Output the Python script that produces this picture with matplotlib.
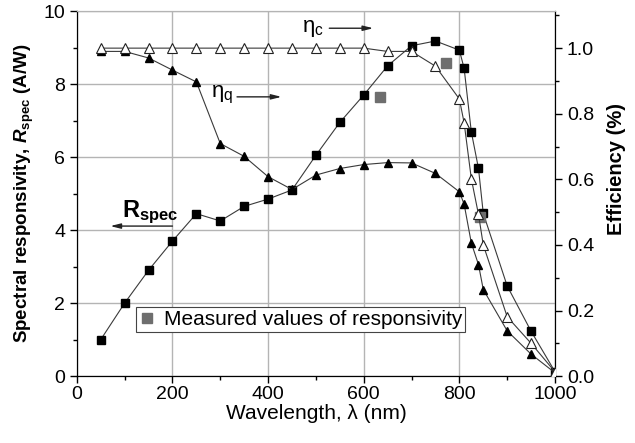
import numpy as np
import matplotlib
matplotlib.use("Agg")
import matplotlib.pyplot as plt
from matplotlib.ticker import MultipleLocator
from matplotlib.lines import Line2D

# ----------- Data -------------------------------------
wl_r = [50, 100, 150, 200, 250, 300, 350, 400, 450, 500, 550, 600, 650, 700,
        750, 800, 810, 825, 840, 850, 900, 950, 1000]
r_spec = [1.0, 2.0, 2.9, 3.7, 4.45, 4.25, 4.65, 4.85, 5.1, 6.05, 6.95, 7.7,
          8.5, 9.05, 9.18, 8.93, 8.43, 6.69, 5.69, 4.46, 2.47, 1.23, 0.12]

wl_eta = [50, 100, 150, 200, 250, 300, 350, 400, 450, 500, 550, 600, 650, 700,
          750, 800, 810, 825, 840, 850, 900, 950, 1000]
eta_c = [1.0, 1.0, 1.0, 1.0, 1.0, 1.0, 1.0, 1.0, 1.0, 1.0, 1.0, 1.0, 0.99,
         0.99, 0.945, 0.845, 0.772, 0.602, 0.493, 0.40, 0.181, 0.10, 0.013]
eta_q = [0.99, 0.99, 0.97, 0.933, 0.897, 0.709, 0.67, 0.608, 0.569, 0.613,
         0.633, 0.645, 0.651, 0.65, 0.618, 0.562, 0.524, 0.406, 0.34, 0.264,
         0.138, 0.067, 0.01]

wl_meas = [633, 772, 843]
r_meas = [7.65, 8.58, 4.37]
# ------------------------------------------------------

plt.rcParams['font.family'] = ['Liberation Sans', 'DejaVu Sans']
plt.rcParams['mathtext.fontset'] = 'custom'
plt.rcParams['mathtext.rm'] = 'Liberation Sans'
plt.rcParams['mathtext.it'] = 'Liberation Sans:italic'
plt.rcParams['mathtext.bf'] = 'Liberation Sans:bold'
plt.rcParams['mathtext.bfit'] = 'Liberation Sans:italic:bold'

LINE = '#3a3a3a'
GRID = '#b4b4b4'

fig, ax = plt.subplots(figsize=(6.35, 4.43), dpi=100)
fig.subplots_adjust(left=0.121, right=0.874, top=0.975, bottom=0.151)
ax2 = ax.twinx()

# left axis: responsivity
ax.plot(wl_r, r_spec, '-', color=LINE, lw=0.8, marker='s', ms=5.8,
        mfc='black', mec='black', zorder=4)
ax.plot(wl_meas, r_meas, 's', color='#6e6e6e', ms=7, zorder=5)

# right axis: efficiencies
ax2.plot(wl_eta, eta_q, '-', color=LINE, lw=0.8, marker='^', ms=6,
         mfc='black', mec='black', zorder=3)
ax2.plot(wl_eta, eta_c, '-', color=LINE, lw=0.8, marker='^', ms=6.5,
         mfc='white', mec='#222222', mew=0.8, zorder=4)

ax.set_xlim(0, 1000)
ax.set_ylim(0, 10)
ax2.set_ylim(0, 1.113)

ax.xaxis.set_major_locator(MultipleLocator(200))
ax.xaxis.set_minor_locator(MultipleLocator(100))
ax.yaxis.set_major_locator(MultipleLocator(2))
ax.yaxis.set_minor_locator(MultipleLocator(1))
ax2.yaxis.set_major_locator(MultipleLocator(0.2))
ax2.yaxis.set_minor_locator(MultipleLocator(0.1))
ax2.yaxis.set_major_formatter(matplotlib.ticker.FormatStrFormatter('%.1f'))

ax.grid(True, which='major', color=GRID, lw=1.0)
ax.set_axisbelow(True)

for a in (ax, ax2):
    a.spines['top'].set_color(GRID)
    a.tick_params(which='both', direction='out', labelsize=14, width=1.0)
    a.tick_params(which='major', length=5)
    a.tick_params(which='minor', length=3)
ax.tick_params(axis='x', pad=2)

ax.set_xlabel('Wavelength, λ (nm)', fontsize=15, labelpad=1)
ax.set_ylabel(r'Spectral responsivity, $\mathbfit{R}_{\mathbf{spec}}$ (A/W)',
              fontsize=13.5, fontweight='bold', labelpad=5)
ax2.set_ylabel('Efficiency (%)', fontsize=14.5, fontweight='bold')
ax2.yaxis.set_label_coords(1.108, 0.568)

# annotations with arrows
arrow = dict(arrowstyle='-|>,head_length=0.6,head_width=0.15', color='#222222', lw=1.0,
             shrinkA=0, shrinkB=0)
ax.text(494, 9.53, r'$\mathrm{\eta_c}$', fontsize=16, ha='center', va='center')
ax.annotate('', xy=(620, 9.53), xytext=(528, 9.53), arrowprops=arrow)
ax.text(303, 7.7, r'$\mathrm{\eta_q}$', fontsize=16, ha='center', va='center')
ax.annotate('', xy=(428, 7.65), xytext=(335, 7.65), arrowprops=arrow)
ax.text(153, 4.5, r'$\mathbf{R_{spec}}$', fontsize=17, ha='center', va='center')
ax.annotate('', xy=(70, 4.11), xytext=(200, 4.11), arrowprops=arrow)

handle = Line2D([], [], ls='', marker='s', color='#6e6e6e', ms=7)
leg = ax.legend([handle], ['Measured values of responsivity'], loc='lower left',
                bbox_to_anchor=(0.123, 0.12), borderaxespad=0, fontsize=15,
                fancybox=False, framealpha=1, edgecolor='#444444',
                handlelength=0.8, handletextpad=0.4, borderpad=0.15)
leg.get_frame().set_linewidth(0.8)
leg.set_zorder(6)

fig.savefig('out.png', dpi=100)
